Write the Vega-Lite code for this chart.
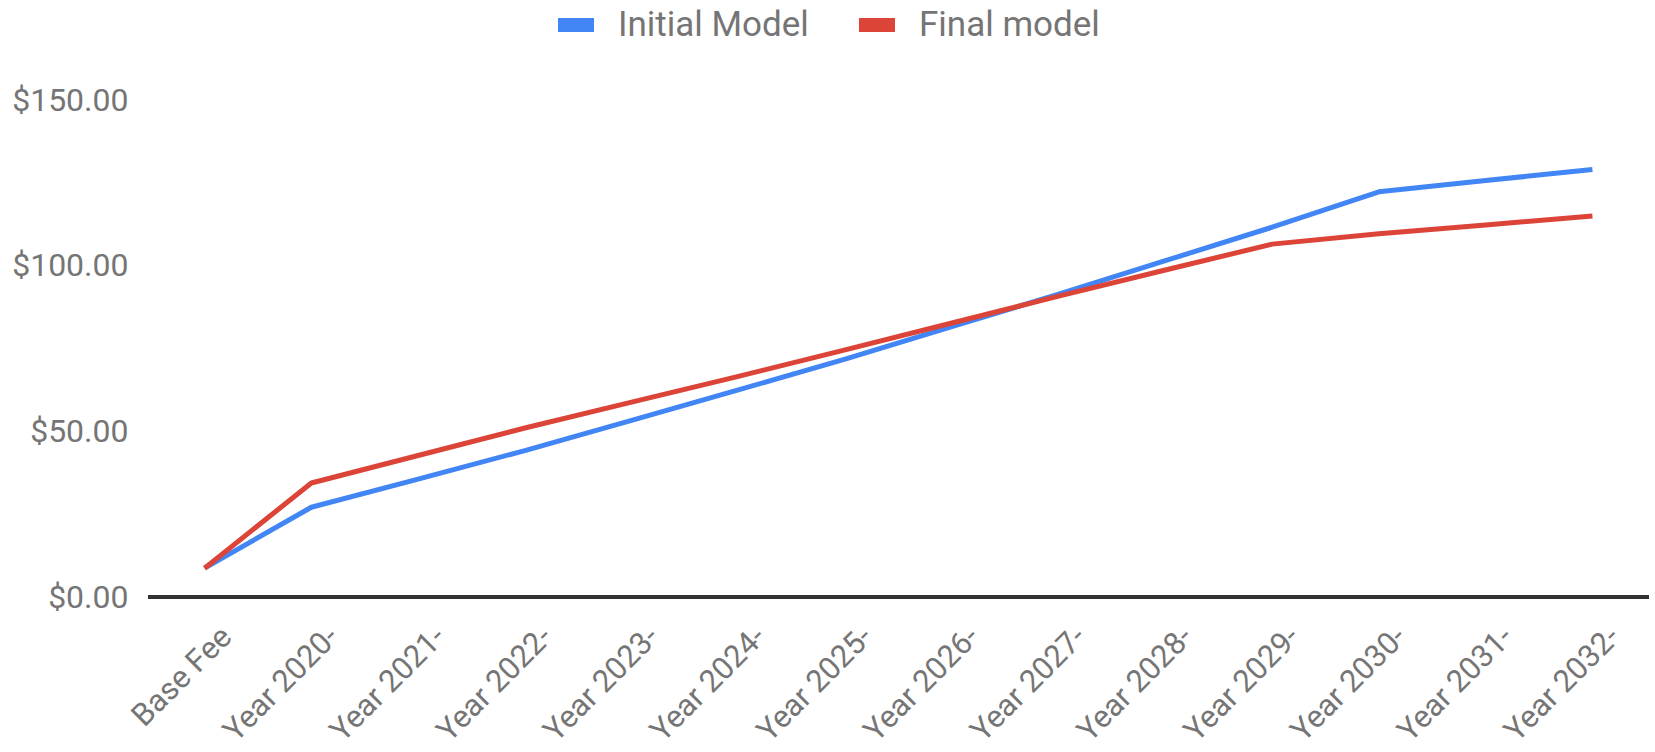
{
  "$schema": "https://vega.github.io/schema/vega-lite/v6.json",
  "width": 1501,
  "height": 497,
  "autosize": {"type": "none"},
  "padding": {"left": 148, "top": 100, "right": 6, "bottom": 155},
  "background": "white",
  "config": {
    "font": "Roboto",
    "view": {"stroke": null}
  },
  "data": {
    "values": [
      {"period": "Base Fee", "series": "Initial Model", "value": 8.7},
      {"period": "Year 2020-", "series": "Initial Model", "value": 27.1},
      {"period": "Year 2021-", "series": "Initial Model", "value": 35.6},
      {"period": "Year 2022-", "series": "Initial Model", "value": 44.2},
      {"period": "Year 2023-", "series": "Initial Model", "value": 53.3},
      {"period": "Year 2024-", "series": "Initial Model", "value": 62.5},
      {"period": "Year 2025-", "series": "Initial Model", "value": 71.8},
      {"period": "Year 2026-", "series": "Initial Model", "value": 81.6},
      {"period": "Year 2027-", "series": "Initial Model", "value": 91.4},
      {"period": "Year 2028-", "series": "Initial Model", "value": 101.5},
      {"period": "Year 2029-", "series": "Initial Model", "value": 111.6},
      {"period": "Year 2030-", "series": "Initial Model", "value": 122.3},
      {"period": "Year 2031-", "series": "Initial Model", "value": 125.7},
      {"period": "Year 2032-", "series": "Initial Model", "value": 129.0},
      {"period": "Base Fee", "series": "Final model", "value": 8.7},
      {"period": "Year 2020-", "series": "Final model", "value": 34.4},
      {"period": "Year 2021-", "series": "Final model", "value": 42.7},
      {"period": "Year 2022-", "series": "Final model", "value": 51.0},
      {"period": "Year 2023-", "series": "Final model", "value": 58.8},
      {"period": "Year 2024-", "series": "Final model", "value": 66.6},
      {"period": "Year 2025-", "series": "Final model", "value": 74.6},
      {"period": "Year 2026-", "series": "Final model", "value": 82.7},
      {"period": "Year 2027-", "series": "Final model", "value": 90.8},
      {"period": "Year 2028-", "series": "Final model", "value": 98.7},
      {"period": "Year 2029-", "series": "Final model", "value": 106.5},
      {"period": "Year 2030-", "series": "Final model", "value": 109.6},
      {"period": "Year 2031-", "series": "Final model", "value": 112.3},
      {"period": "Year 2032-", "series": "Final model", "value": 115.0}
    ]
  },
  "layer": [
    {
      "mark": {"type": "rule", "color": "#333333", "strokeWidth": 2.5},
      "encoding": {"y": {"datum": 0, "type": "quantitative"}}
    },
    {
      "mark": {"type": "line", "strokeWidth": 5, "strokeJoin": "round"},
      "encoding": {
        "x": {
          "field": "period",
          "type": "ordinal",
          "sort": null,
          "scale": {"type": "point", "padding": 0.53},
          "axis": {
            "title": null,
            "labelAngle": -45,
            "labelAlign": "right",
            "labelBaseline": "middle",
            "labelFontSize": 31,
            "labelColor": "#757575",
            "labelPadding": 35,
            "labelOffset": 22,
            "labelOverlap": false,
            "labelLimit": 400,
            "ticks": false,
            "domain": false,
            "grid": false
          }
        },
        "y": {
          "field": "value",
          "type": "quantitative",
          "scale": {"domain": [0, 150], "nice": false},
          "axis": {
            "title": null,
            "values": [0, 50, 100, 150],
            "format": "$,.2f",
            "labelFontSize": 32,
            "labelColor": "#757575",
            "labelPadding": 20,
            "ticks": false,
            "domain": false,
            "gridColor": "#cccccc",
            "gridWidth": 2
          }
        },
        "color": {
          "field": "series",
          "type": "nominal",
          "sort": ["Initial Model", "Final model"],
          "scale": {"domain": ["Initial Model", "Final model"], "range": ["#4285F4", "#DB4437"]},
          "legend": {
            "title": null,
            "orient": "none",
            "direction": "horizontal",
            "legendX": 403,
            "legendY": -100,
            "symbolType": "stroke",
            "symbolSize": 1296,
            "symbolStrokeWidth": 14,
            "labelFontSize": 35,
            "labelLimit": 400,
            "labelColor": "#757575",
            "labelOffset": 17,
            "columnPadding": 22
          }
        }
      }
    }
  ]
}
